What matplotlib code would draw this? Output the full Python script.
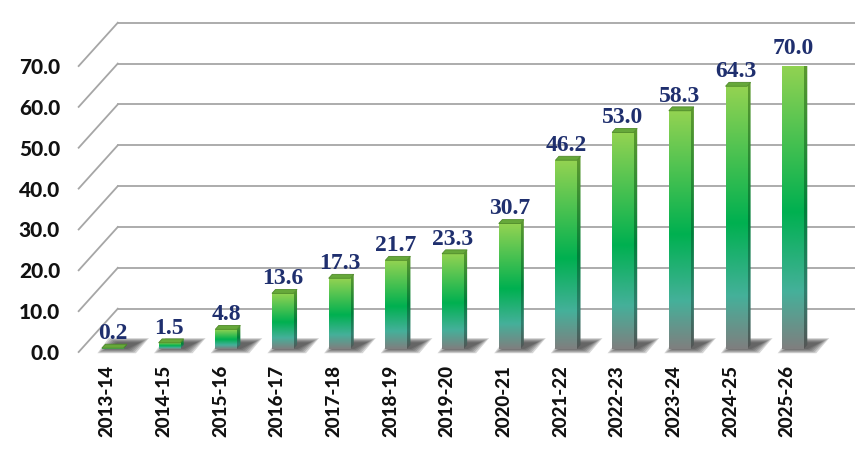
import numpy as np
import matplotlib
matplotlib.use("Agg")
import matplotlib.pyplot as plt
from matplotlib.colors import LinearSegmentedColormap
from matplotlib.patches import Polygon

# ---------------- data ----------------
years = ["2013-14", "2014-15", "2015-16", "2016-17", "2017-18", "2018-19", "2019-20",
         "2020-21", "2021-22", "2022-23", "2023-24", "2024-25", "2025-26"]
values = [0.2, 1.5, 4.8, 13.6, 17.3, 21.7, 23.3, 30.7, 46.2, 53.0, 58.3, 64.3, 70.0]
y_ticks = [0, 10, 20, 30, 40, 50, 60, 70]

# ---------------- look ----------------
DEPTH_X, DEPTH_Y = 0.69, 10.6      # depth of the fake 3D box, data units
BAR_DX, BAR_DY = 0.10, 0.75       # bars sit a little behind the front plane
BAR_W = 0.38
BAR_DEPTH = 0.09                  # fraction of box depth used by each bar
GRID = "#a6a6a6"
LABEL_COL = "#1f2f6e"

front_cmap = LinearSegmentedColormap.from_list(
    "barfront", [(0.0, "#94d352"), (0.52, "#00b050"), (0.8, "#45b09a"), (1.0, "#7f7f7f")])
side_cmap = LinearSegmentedColormap.from_list(
    "barside", [(0.0, "#5f9a2e"), (0.52, "#00803a"), (0.8, "#2f7f6e"), (1.0, "#555555")])

fig = plt.figure(figsize=(8.55, 4.65), dpi=100)
ax = fig.add_axes([0.092, 0.243, 0.862, 0.615])

n = len(years)
x = np.arange(n)

# back wall gridlines + left wall diagonals
for v in y_ticks:
    ax.plot([-0.5 + DEPTH_X, n - 0.5 + DEPTH_X], [v + DEPTH_Y, v + DEPTH_Y],
            color=GRID, lw=1.3, clip_on=False, zorder=1)
    ax.plot([-0.5, -0.5 + DEPTH_X], [v, v + DEPTH_Y],
            color=GRID, lw=1.3, clip_on=False, zorder=1)

grad = np.linspace(0, 1, 256).reshape(-1, 1)
bdx = DEPTH_X * BAR_DEPTH
bdy = DEPTH_Y * BAR_DEPTH

for i, v in zip(x, values):
    x0 = i + BAR_DX - BAR_W / 2
    x1 = i + BAR_DX + BAR_W / 2
    y0 = BAR_DY
    y1 = BAR_DY + v

    # soft floor shadow, a few stacked translucent parallelograms
    for k in range(6):
        g = k * 0.03
        sh = Polygon([(x0 - 0.08 + g, -0.3 + g * 7), (x1 + 0.22 - g, -0.3 + g * 7),
                      (x1 + 0.45 - g, 3.4 - g * 7), (x0 + 0.12 + g, 3.4 - g * 7)],
                     closed=True, facecolor="#303030", edgecolor="none",
                     alpha=0.2, zorder=2, clip_on=False)
        ax.add_patch(sh)

    # front face gradient
    ax.imshow(grad, cmap=front_cmap, extent=(x0, x1, y0, y1), origin="upper",
              aspect="auto", zorder=4, interpolation="bilinear")

    # right side face
    side = Polygon([(x1, y0), (x1 + bdx, y0 + bdy), (x1 + bdx, y1 + bdy), (x1, y1)],
                   closed=True, facecolor="none", edgecolor="none")
    ax.add_patch(side)
    im = ax.imshow(grad, cmap=side_cmap, extent=(x1, x1 + bdx, y0, y1 + bdy),
                   origin="upper", aspect="auto", zorder=3, interpolation="bilinear")
    im.set_clip_path(side)

    # top face
    top = Polygon([(x0, y1), (x1, y1), (x1 + bdx, y1 + bdy), (x0 + bdx, y1 + bdy)],
                  closed=True, facecolor="#66a83a", edgecolor="#4f8a2a", lw=0.6, zorder=5)
    ax.add_patch(top)

    ax.annotate(f"{v:.1f}", (i + BAR_DX, y1), xytext=(0, 6.5), textcoords="offset points",
                ha="center", va="baseline", fontsize=17, fontweight="bold",
                family="Liberation Serif", color=LABEL_COL, zorder=6,
                annotation_clip=False)

ax.set_xlim(-0.5, n - 0.5)
ax.set_ylim(0, 70)
ax.set_frame_on(False)

ax.set_yticks(y_ticks)
ax.set_yticklabels([f"{t:.1f}" for t in y_ticks], fontsize=15, fontweight=900,
                   family="Lato", color="#111111")
ax.set_xticks(x)
ax.set_xticklabels(years, rotation=90, fontsize=13.5, fontweight=900,
                   family="Lato", color="#111111")
ax.tick_params(axis="y", length=0, pad=13.4)
ax.tick_params(axis="x", length=0, pad=9.5)

fig.savefig("out.png", dpi=100)
